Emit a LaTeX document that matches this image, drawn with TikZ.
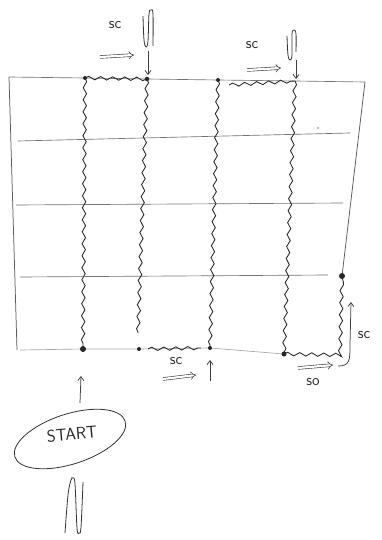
\documentclass[tikz,border=0pt]{standalone}
\usetikzlibrary{decorations.pathmorphing,arrows.meta,shapes.geometric}
\begin{document}
\begin{tikzpicture}[x=1pt,y=-1pt,
  grid/.style={draw=black!55, line width=0.65pt},
  edgeline/.style={draw=black!65, line width=0.75pt},
  wavy/.style={draw=black!85, line width=0.85pt, decorate,
    decoration={snake, amplitude=1.7pt, segment length=12pt}},
  dotp/.style={circle, fill=black!85, inner sep=0pt, minimum size=#1},
  lbl/.style={font=\sffamily\fontsize{16}{16}\selectfont, text=black!80},
  biglbl/.style={font=\sffamily\fontsize{17}{17}\selectfont, text=black!85},
  dbl/.style={draw=black!75, line width=0.6pt, double distance=2.2pt, -{Implies}},
  arr/.style={draw=black!75, line width=0.75pt, -{Straight Barb[length=4pt,width=6pt]}},
  yarn/.style={draw=black!80, line width=0.8pt}
]
\useasboundingbox (0,0) rectangle (381,540);
\fill[white] (0,0) rectangle (381,540);

% grid corner points
\coordinate (TL) at (9,77);
\coordinate (TR) at (365,82);
\coordinate (BL) at (20,350);
\coordinate (LB) at (17,350);
% top dots
\coordinate (t1) at (85,78);
\coordinate (t2) at (147,79);
\coordinate (t3) at (218,80);
\coordinate (t4) at (295,81);
% bottom dots
\coordinate (b1) at (83,349);
\coordinate (b2) at (139,349);
\coordinate (b3) at (210,348);
\coordinate (b4) at (284,354);
\coordinate (r4) at (342,276);
\coordinate (e2) at (138,333);
\coordinate (cr) at (340,355);

% horizontal lines
\coordinate (h2a) at (18,141); \coordinate (h2b) at (350,133);
\coordinate (h3a) at (16,205); \coordinate (h3b) at (343,203);
\coordinate (h4a) at (20,277); \coordinate (h4b) at (328,275);

\draw[grid] (TL) -- (t1) -- (t2) -- (t3) -- (t4) -- (TR);
\draw[grid] (h2a) -- (h2b);
\draw[grid] (h3a) -- (h3b);
\draw[grid] (h4a) -- (h4b);
\draw[grid, black!35] (BL) -- (b1) -- (b2) -- (b3) -- (b4);
% edges
\draw[edgeline] (TL) -- (LB);
\draw[edgeline] (TR) -- (r4);

% wavy vertical rows
\draw[wavy] (t1) -- (b1);
\draw[wavy] (t2) -- (e2);
\draw[wavy] (t3) -- (b3);
\draw[wavy] (t4) -- (b4);
% wavy horizontal parts
\draw[wavy] (t1) -- (t2);
\coordinate (w2a) at (229,85);
\draw[wavy] (w2a) -- (t4);
\coordinate (w3a) at (148,349);
\coordinate (w3b) at (201,348);
\draw[wavy] (w3a) -- (w3b);
\draw[wavy] (b4) -- (cr) -- (r4);

% dots
\node[dotp=4pt] (d1) at (t1) {};
\node[dotp=4.5pt] (d2) at (t2) {};
\node[dotp=4pt] (d3) at (t3) {};
\node[dotp=6pt] (d4) at (b1) {};
\node[dotp=4pt] (d5) at (b2) {};
\node[dotp=4pt] (d6) at (b3) {};
\node[dotp=5pt] (d7) at (b4) {};
\node[dotp=6pt] (d8) at (r4) {};

% small red pen mark
\fill[red!70] (318,128) circle (0.9pt);

% top-left instruction
\node[lbl] (sc1) at (115,25) {sc};
\coordinate (a1s) at (100,57); \coordinate (a1e) at (134,55);
\draw[dbl] (a1s) -- (a1e);
\draw[yarn] plot[smooth, tension=0.6] coordinates {(143,16) (144,40) (146,47) (148,41) (149,14) (151,10) (153,14) (153,46)};
\coordinate (dn1s) at (148,51); \coordinate (dn1e) at (148,75);
\draw[arr] (dn1s) -- (dn1e);

% top-right instruction
\node[lbl] (sc2) at (252,45) {sc};
\coordinate (a2s) at (247,70); \coordinate (a2e) at (281,68);
\draw[dbl] (a2s) -- (a2e);
\draw[yarn] plot[smooth, tension=0.6] coordinates {(287,36) (288,55) (290,60) (292,55) (292,34) (294,30) (296,34) (296,52)};
\coordinate (dn2s) at (296,60); \coordinate (dn2e) at (296,79);
\draw[arr] (dn2s) -- (dn2e);

% bottom middle instruction
\node[lbl] (sc3) at (176,361) {sc};
\coordinate (a3s) at (163,379); \coordinate (a3e) at (196,375);
\draw[dbl] (a3s) -- (a3e);
\coordinate (up3s) at (210,381); \coordinate (up3e) at (210,360);
\draw[arr] (up3s) -- (up3e);

% bottom right instruction
\coordinate (a4s) at (298,368); \coordinate (a4e) at (333,365);
\draw[dbl] (a4s) -- (a4e);
\node[lbl] (so) at (313,382) {so};
\coordinate (c4s) at (338,366); \coordinate (c4e) at (351,302);
\draw[arr] (c4s) .. controls (350,366) and (350,360) .. (350,345) -- (c4e);
\node[lbl] (sc4) at (364,335) {sc};

% start
\coordinate (up1s) at (80,403); \coordinate (up1e) at (81,376);
\draw[arr] (up1s) -- (up1e);
\node[draw=black!80, line width=0.8pt, ellipse, minimum width=116pt, minimum height=50pt, rotate=18] (startring) at (70,439) {};
\node[biglbl, rotate=5] (start) at (72,434) {START};
\draw[yarn] plot[smooth, tension=0.6] coordinates {(65,533) (68,495) (71,480) (73,478) (75,484) (77,528) (79,533) (81,527) (83,482)};

\end{tikzpicture}
\end{document}
